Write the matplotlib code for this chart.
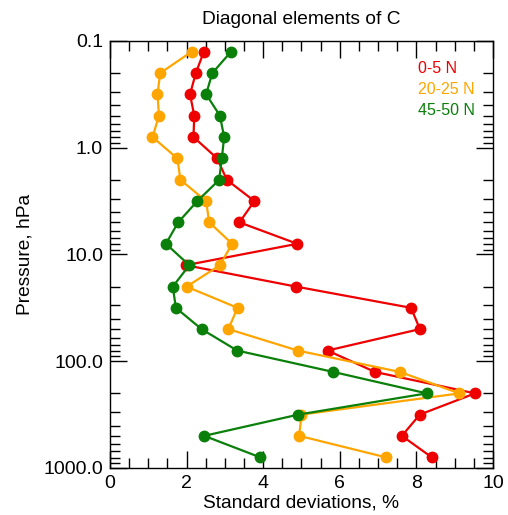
import matplotlib.pyplot as plt
import matplotlib
from matplotlib.ticker import FixedLocator, NullFormatter, MultipleLocator

matplotlib.rcParams['font.family'] = ['Liberation Sans', 'DejaVu Sans']

# pressure levels (hPa)
pressure = [0.126, 0.2, 0.316, 0.5, 0.794, 1.26, 2.0, 3.16, 5.0, 7.94,
            12.6, 20.0, 31.6, 50.0, 79.4, 126.0, 200.0, 316.0, 500.0, 794.0]

# standard deviations (%)
sd_0_5 = [2.45, 2.24, 2.09, 2.20, 2.18, 2.80, 3.05, 3.77, 3.38, 4.89,
          1.98, 4.86, 7.86, 8.09, 5.68, 6.92, 9.53, 8.09, 7.62, 8.40]
sd_20_25 = [2.13, 1.31, 1.24, 1.28, 1.11, 1.76, 1.84, 2.51, 2.59, 3.19,
            2.87, 2.00, 3.33, 3.09, 4.90, 7.57, 9.12, 5.00, 4.94, 7.20]
sd_45_50 = [3.16, 2.67, 2.51, 2.87, 2.98, 2.92, 2.85, 2.28, 1.78, 1.46,
            2.07, 1.64, 1.72, 2.39, 3.32, 5.83, 8.27, 4.92, 2.46, 3.92]

labels = ['0-5 N', '20-25 N', '45-50 N']
colors = ['#ee0000', '#ffa500', '#0a800a']

fig = plt.figure(figsize=(5.08, 5.15), dpi=100)
ax = fig.add_axes([0.2165, 0.0913, 0.754, 0.8291])

for vals, c in zip([sd_0_5, sd_20_25, sd_45_50], colors):
    ax.plot(vals, pressure, color=c, linewidth=1.6, marker='o',
            markersize=7.5, clip_on=False)

ax.set_yscale('log')
ax.set_ylim(1000, 0.1)
ax.set_xlim(0, 10)

ax.yaxis.set_major_locator(FixedLocator([0.1, 1, 10, 100, 1000]))
ax.set_yticklabels(['0.1', '1.0', '10.0', '100.0', '1000.0'])
minors = [m * 10.0 ** e for e in range(-1, 3) for m in range(2, 10)]
ax.yaxis.set_minor_locator(FixedLocator(minors))
ax.yaxis.set_minor_formatter(NullFormatter())

ax.xaxis.set_major_locator(MultipleLocator(2))
ax.xaxis.set_minor_locator(MultipleLocator(0.5))

ax.tick_params(which='both', direction='in', top=True, right=True,
               labelsize=14, width=1)
ax.tick_params(which='major', length=12)
ax.tick_params(which='minor', length=7)
ax.tick_params(axis='x', pad=5)
ax.tick_params(axis='y', pad=5)

for s in ax.spines.values():
    s.set_linewidth(1)

ax.set_title('Diagonal elements of C', fontsize=13.8, pad=12)
ax.set_xlabel('Standard deviations, %', fontsize=13.8, labelpad=2)
ax.set_ylabel('Pressure, hPa', fontsize=13.8, labelpad=7)

# legend as coloured text
for i, (lab, c) in enumerate(zip(labels, colors)):
    ax.text(0.804, 0.935 - i * 0.049, lab, color=c, fontsize=11.5,
            transform=ax.transAxes, ha='left', va='center')

plt.savefig('out.png', dpi=100, facecolor='white')
plt.close()
